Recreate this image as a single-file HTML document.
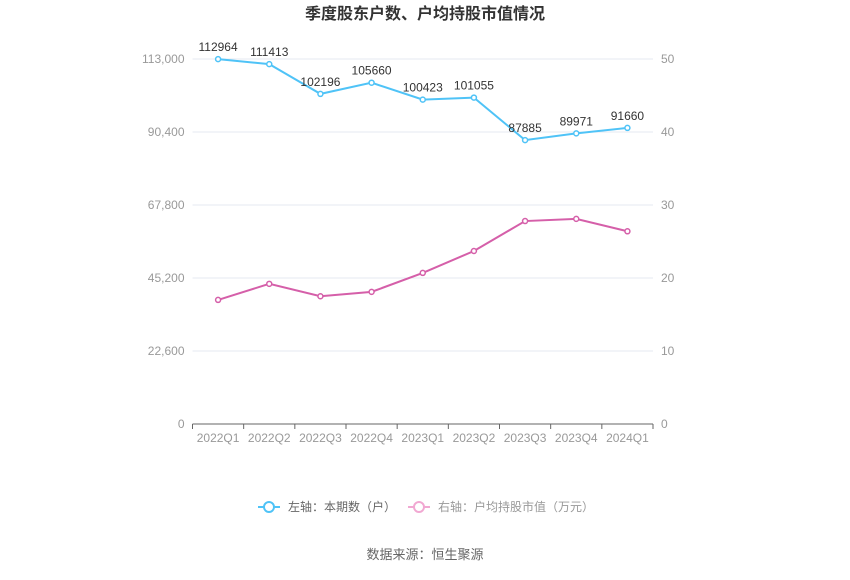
<!DOCTYPE html>
<html><head><meta charset="utf-8"><style>
body{margin:0;background:#fff;width:850px;height:575px;overflow:hidden;font-family:"Liberation Sans","Noto Sans CJK SC",sans-serif}
</style></head><body>
<svg width="850" height="575" id="c" style="font-family:'Liberation Sans','Noto Sans CJK SC',sans-serif">
<text x="425" y="19" text-anchor="middle" font-size="16" font-weight="bold" fill="#333">季度股东户数、户均持股市值情况</text>
<g><line x1="258" y1="507" x2="280" y2="507" stroke="#4fc3f7" stroke-width="2"/><circle cx="269" cy="507" r="5" fill="#fff" stroke="#4fc3f7" stroke-width="2"/><text x="288" y="511" font-size="12" fill="#666">左轴：本期数（户）</text></g>
<g><line x1="408" y1="507" x2="430" y2="507" stroke="#f1a8d2" stroke-width="2"/><circle cx="419" cy="507" r="5" fill="#fff" stroke="#f1a8d2" stroke-width="2"/><text x="438" y="511" font-size="12" fill="#999">右轴：户均持股市值（万元）</text></g>
<text x="425" y="559" text-anchor="middle" font-size="13" fill="#666">数据来源：恒生聚源</text>
</svg>
<script>
const categories=["2022Q1","2022Q2","2022Q3","2022Q4","2023Q1","2023Q2","2023Q3","2023Q4","2024Q1"];
const holders=[112964,111413,102196,105660,100423,101055,87885,89971,91660];
const avgValue=[17.0,19.2,17.5,18.1,20.7,23.7,27.8,28.1,26.4];
const leftTicks=[0,22600,45200,67800,90400,113000];
const rightTicks=[0,10,20,30,40,50];
const svg=document.getElementById('c');const NS='http://www.w3.org/2000/svg';
const L=192.5,R=653,T=59,B=424;
const bw=(R-L)/categories.length;
const x=i=>L+bw*(i+0.5);
const yl=v=>B-(v/113000)*(B-T);
const yr=v=>B-(v/50)*(B-T);
function mk(t,a,p){const e=document.createElementNS(NS,t);for(const k in a)e.setAttribute(k,a[k]);(p||svg).appendChild(e);return e;}
leftTicks.forEach((v,i)=>{
 const g=mk('g',{});
 
 
 if(i>0)mk('line',{x1:L,x2:R,y1:yl(v),y2:yl(v),stroke:'#e6eaf2','stroke-width':1},g);
 const t=mk('text',{x:L-8,y:yl(v)+4,'text-anchor':'end','font-size':12,fill:'#999'},g);t.textContent=v.toLocaleString('en-US');
 
 
});
rightTicks.forEach(v=>{
 const t=mk('text',{x:R+8,y:yr(v)+4,'font-size':12,fill:'#999'});t.textContent=v;
 
 
});
const ax=mk('line',{x1:L,x2:R,y1:B,y2:B,stroke:'#666'});


categories.forEach((c,i)=>{
 mk('line',{x1:L+bw*i,x2:L+bw*i,y1:B,y2:B+5,stroke:'#666'});
 const t=mk('text',{x:x(i),y:B+18,'text-anchor':'middle','font-size':12,fill:'#999'});t.textContent=c;
 
 
});
mk('line',{x1:R,x2:R,y1:B,y2:B+5,stroke:'#666'});
function series(vals,fy,color,name,labels){
 const p=mk('polyline',{points:vals.map((v,i)=>x(i)+','+fy(v)).join(' '),fill:'none',stroke:color,'stroke-width':2});
 
 
 vals.forEach((v,i)=>{
  const c=mk('circle',{cx:x(i),cy:fy(v),r:2.5,fill:'#fff',stroke:color,'stroke-width':1.5});
  
  
  if(labels){const t=mk('text',{x:x(i),y:fy(v)-8,'text-anchor':'middle','font-size':12,fill:'#333'});t.textContent=v;
  
  }
 });
}
series(avgValue,yr,'#d55fa9','avg-value',false);
series(holders,yl,'#4fc3f7','holders',true);
</script>
</body></html>
